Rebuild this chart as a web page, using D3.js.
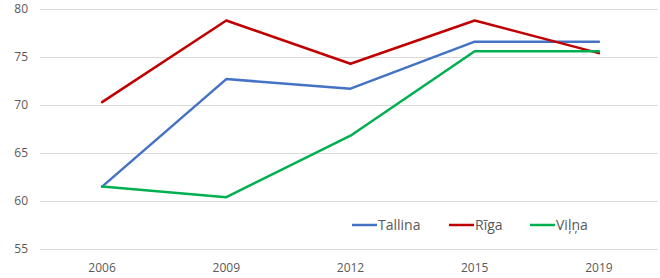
<!DOCTYPE html>
<html><head><meta charset="utf-8">
<script src="https://cdn.jsdelivr.net/npm/d3@7"></script>
<style>body{margin:0;background:#fff}svg{display:block}text{font-family:"Open Sans",sans-serif;fill:#595959}</style>
</head><body>
<svg id="c" width="660" height="278"></svg>
<script>
const years = ["2006","2009","2012","2015","2019"];
const tallina = [61.5, 72.7, 71.7, 76.6, 76.6];
const riga = [70.3, 78.8, 74.3, 78.8, 75.4];
const vilna = [61.5, 60.4, 66.8, 75.6, 75.6];
const seriesNames = ["Tallina","Rīga","Viļņa"];
const yTicks = [55,60,65,70,75,80];

const colors = ["#4472C4","#C00000","#00B050"];
const svg = d3.select("#c");
const x = d3.scaleBand().domain(years).range([40,661]);
const y = d3.scaleLinear().domain([55,80]).range([249,9]);

svg.append("g").selectAll("line").data(yTicks).join("line")
  .attr("x1",40).attr("x2",658).attr("y1",d=>y(d)+0.5).attr("y2",d=>y(d)+0.5)
  .attr("stroke","#d9d9d9").attr("stroke-width",1);
svg.append("g").selectAll("text").data(yTicks).join("text")
  .attr("x",28).attr("y",d=>y(d)+4).attr("text-anchor","end").attr("font-size",12).text(d=>d);
svg.append("g").selectAll("text").data(years).join("text")
  .attr("x",d=>x(d)+x.bandwidth()/2).attr("y",272).attr("text-anchor","middle").attr("font-size",12).text(d=>d);

const line = d3.line().x((d,i)=>x(years[i])+x.bandwidth()/2).y(d=>y(d));
[tallina,riga,vilna].forEach((s,i)=>{
  svg.append("path").attr("d",line(s)).attr("fill","none").attr("stroke",colors[i])
    .attr("stroke-width",2.5).attr("stroke-linejoin","round").attr("stroke-linecap","round");
});
const legX = [352,449,530];
seriesNames.forEach((n,i)=>{
  svg.append("line").attr("x1",legX[i]).attr("x2",legX[i]+25).attr("y1",225).attr("y2",225)
    .attr("stroke",colors[i]).attr("stroke-width",2.5);
  svg.append("text").attr("x",legX[i]+26).attr("y",230).attr("font-size",14).text(n);
});
</script>
</body></html>
